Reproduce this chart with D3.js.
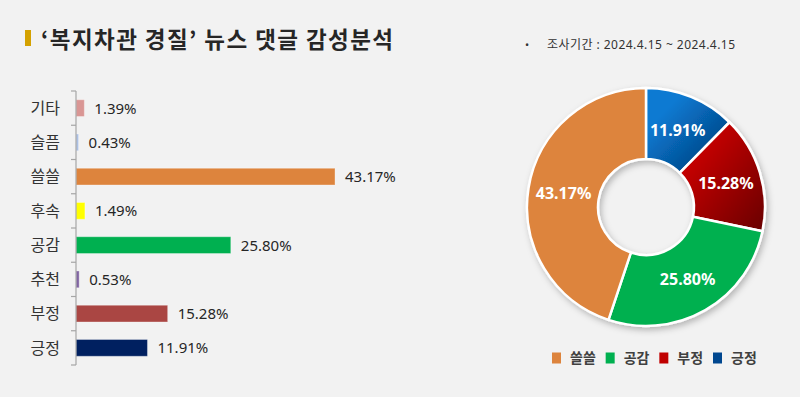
<!DOCTYPE html>
<html>
<head>
<meta charset="utf-8">
<script src="https://cdn.jsdelivr.net/npm/d3@7"></script>
<style>
  html, body { margin: 0; padding: 0; background: #f2f2f2; }
  svg { display: block; }
</style>
</head>
<body>
<div id="chart"></div>
<script>
// bar chart data (top to bottom)
const categories = ["기타", "슬픔", "쓸쓸", "후속", "공감", "추천", "부정", "긍정"];
const barValues = [1.39, 0.43, 43.17, 1.49, 25.80, 0.53, 15.28, 11.91];
const barColors = ["#d99694", "#abc0e4", "#dd843d", "#ffff00", "#00b050", "#8064a2", "#aa4643", "#002060"];

// donut data (clockwise from top)
const pieCategories = ["긍정", "부정", "공감", "쓸쓸"];
const pieValues = [11.91, 15.28, 25.80, 43.17];
const legendOrder = ["쓸쓸", "공감", "부정", "긍정"];

const titleText = "‘복지차관 경질’ 뉴스 댓글 감성분석";
const periodText = "조사기간 : 2024.4.15 ~ 2024.4.15";

const width = 800, height = 397;
const KR = "'Noto Sans CJK KR', 'Noto Sans', sans-serif";
const NUM = "'Noto Sans', 'Noto Sans CJK KR', sans-serif";

const svg = d3.select("#chart").append("svg")
  .attr("width", width)
  .attr("height", height);

svg.append("rect").attr("width", width).attr("height", height).attr("fill", "#f2f2f2");

const defs = svg.append("defs");
const shadow = defs.append("filter").attr("id", "shadow")
  .attr("x", "-20%").attr("y", "-20%").attr("width", "140%").attr("height", "140%");
shadow.append("feDropShadow")
  .attr("dx", 2).attr("dy", 3).attr("stdDeviation", 3)
  .attr("flood-color", "#000").attr("flood-opacity", 0.25);

// title
svg.append("rect").attr("x", 25).attr("y", 30).attr("width", 6).attr("height", 16).attr("fill", "#d4a100");
svg.append("text")
  .attr("x", 41).attr("y", 47.5)
  .attr("font-family", KR).attr("font-weight", "bold").attr("font-size", 22.5)
  .attr("fill", "#262626")
  .attr("textLength", 352).attr("lengthAdjust", "spacing")
  .text(titleText);

// period
svg.append("text").attr("x", 525).attr("y", 49)
  .attr("font-family", NUM).attr("font-size", 11).attr("fill", "#333").text("•");
svg.append("text").attr("x", 547).attr("y", 49)
  .attr("font-family", NUM).attr("font-size", 12).attr("fill", "#333")
  .attr("textLength", 188).attr("lengthAdjust", "spacing")
  .text(periodText);

// ---- bar chart ----
const y = d3.scaleBand()
  .domain(categories)
  .range([91, 365])
  .paddingInner(0.51)
  .paddingOuter(0.255);

const x = d3.scaleLinear().domain([0, 50]).range([76, 376]);

const barG = svg.append("g");

barG.selectAll("rect.bar")
  .data(categories)
  .enter().append("rect")
  .attr("class", "bar")
  .attr("x", x(0))
  .attr("y", d => y(d))
  .attr("width", (d, i) => x(barValues[i]) - x(0))
  .attr("height", y.bandwidth())
  .attr("fill", (d, i) => barColors[i])
  .attr("stroke", "rgba(255,255,255,0.35)")
  .attr("stroke-width", 1);

barG.selectAll("text.val")
  .data(categories)
  .enter().append("text")
  .attr("class", "val")
  .attr("x", (d, i) => x(barValues[i]) + 10)
  .attr("y", d => y(d) + y.bandwidth() / 2)
  .attr("dy", "0.36em")
  .attr("font-family", NUM).attr("font-size", 15).attr("fill", "#262626")
  .text((d, i) => barValues[i].toFixed(2) + "%");

barG.selectAll("text.cat")
  .data(categories)
  .enter().append("text")
  .attr("class", "cat")
  .attr("x", 60)
  .attr("y", d => y(d) + y.bandwidth() / 2)
  .attr("dy", "0.36em")
  .attr("text-anchor", "end")
  .attr("font-family", KR).attr("font-size", 16).attr("fill", "#333")
  .text(d => d);

// axis line with boundary ticks
const r0 = y.range()[0], r1 = y.range()[1];
const step = y.step();
barG.append("line")
  .attr("x1", x(0)).attr("x2", x(0)).attr("y1", r0).attr("y2", r1)
  .attr("stroke", "#a6a6a6").attr("stroke-width", 1.2);
barG.selectAll("line.tick")
  .data(d3.range(categories.length + 1))
  .enter().append("line")
  .attr("class", "tick")
  .attr("x1", x(0) - 5).attr("x2", x(0))
  .attr("y1", i => r0 + i * step).attr("y2", i => r0 + i * step)
  .attr("stroke", "#a6a6a6").attr("stroke-width", 1.2);

// ---- donut ----
const cx = 646, cy = 207;
const outerR = 119, innerR = 48;

const gradStops = {
  "긍정": ["#0a7ad2", "#00356f"],
  "부정": ["#c40000", "#680000"]
};
const flatColors = { "공감": "#00b050", "쓸쓸": "#dd843d" };
Object.keys(gradStops).forEach((k, i) => {
  const g = defs.append("linearGradient").attr("id", "grad" + i)
    .attr("x1", "0%").attr("y1", "0%").attr("x2", "100%").attr("y2", "100%");
  g.append("stop").attr("offset", "25%").attr("stop-color", gradStops[k][0]);
  g.append("stop").attr("offset", "100%").attr("stop-color", gradStops[k][1]);
});
const sliceFill = k => {
  const idx = Object.keys(gradStops).indexOf(k);
  return idx >= 0 ? `url(#grad${idx})` : flatColors[k];
};
const legendColor = { "쓸쓸": "#dd843d", "공감": "#00b050", "부정": "#c00000", "긍정": "#00478f" };

const pie = d3.pie().sort(null).value(d => d.v);
const arc = d3.arc().innerRadius(innerR).outerRadius(outerR);
const pieData = pie(pieCategories.map((c, i) => ({ c, v: pieValues[i] })));

const donut = svg.append("g").attr("transform", `translate(${cx},${cy})`);
donut.append("g").attr("filter", "url(#shadow)")
  .selectAll("path")
  .data(pieData)
  .enter().append("path")
  .attr("d", arc)
  .attr("fill", d => sliceFill(d.data.c))
  .attr("stroke", "#fff")
  .attr("stroke-width", 2.5)
  .attr("stroke-linejoin", "round");

donut.selectAll("text")
  .data(pieData)
  .enter().append("text")
  .attr("transform", d => `translate(${arc.centroid(d)})`)
  .attr("dy", "0.36em")
  .attr("text-anchor", "middle")
  .attr("font-family", NUM).attr("font-weight", "bold").attr("font-size", 16)
  .attr("fill", "#fff")
  .text(d => d.data.v.toFixed(2) + "%");

// legend
const legendX = d3.scalePoint().domain(legendOrder).range([552, 713]);
const lg = svg.append("g").selectAll("g")
  .data(legendOrder)
  .enter().append("g")
  .attr("transform", d => `translate(${legendX(d)},358)`);
lg.append("rect").attr("x", 0).attr("y", -5.5).attr("width", 9).attr("height", 11)
  .attr("fill", d => legendColor[d]);
lg.append("text").attr("x", 18).attr("y", 0).attr("dy", "0.36em")
  .attr("font-family", KR).attr("font-weight", "bold").attr("font-size", 14)
  .attr("fill", "#404040")
  .text(d => d);
</script>
</body>
</html>
